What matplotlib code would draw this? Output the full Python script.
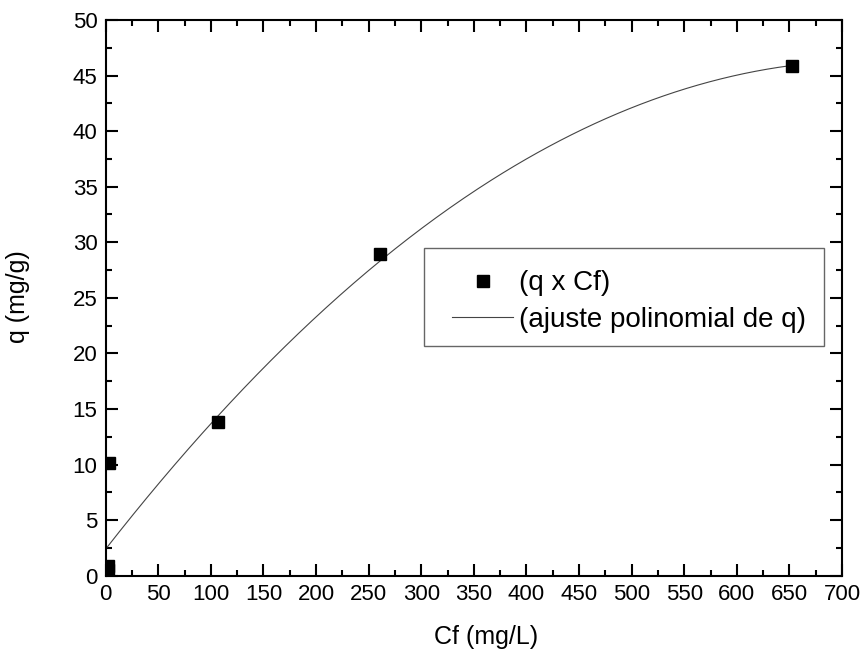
import numpy as np
import matplotlib
matplotlib.use("Agg")
import matplotlib.pyplot as plt
from matplotlib.ticker import MultipleLocator
from matplotlib.patches import Rectangle

plt.rcParams['font.family'] = ['Liberation Sans', 'DejaVu Sans']

# Experimental points (q x Cf)
cf = [3, 2, 2, 106.5, 261, 652.5]
q = [10.15, 0.85, 0.55, 13.85, 28.9, 45.9]

# Polynomial fit coefficients (q = a + b*Cf + c*Cf^2)
fit_coef = [-8.34e-5, 0.1211, 2.4]
fit_range = [0, 652.5]

xf = np.linspace(fit_range[0], fit_range[1], 300)
yf = np.polyval(fit_coef, xf)

fig = plt.figure(figsize=(8.65, 6.59), dpi=100)
ax = fig.add_axes([0.1222, 0.1264, 0.9734 - 0.1222, 0.9697 - 0.1264])

ax.plot(xf, yf, color='#444444', lw=0.8, label='(ajuste polinomial de q)', zorder=2)
ax.plot(cf, q, 's', color='black', ms=9, label='(q x Cf)', zorder=3)

ax.set_xlim(0, 700)
ax.set_ylim(0, 50)
ax.xaxis.set_major_locator(MultipleLocator(50))
ax.xaxis.set_minor_locator(MultipleLocator(25))
ax.yaxis.set_major_locator(MultipleLocator(5))
ax.yaxis.set_minor_locator(MultipleLocator(2.5))
ax.tick_params(which='both', direction='in', top=True, right=True, width=1.5, labelsize=16)
ax.tick_params(which='major', length=8.5)
ax.tick_params(which='minor', length=4.5)
ax.tick_params(axis='x', which='major', pad=6)
ax.tick_params(axis='y', which='major', pad=6)
for s in ax.spines.values():
    s.set_linewidth(1.5)

ax.set_xlabel('Cf (mg/L)', fontsize=18)
ax.set_ylabel('q (mg/g)', fontsize=18)
ax.xaxis.set_label_coords(0.516, -0.089)
ax.yaxis.set_label_coords(-0.1028, 0.5015)

# legend frame
ax.add_patch(Rectangle((0.4323, 0.4134), 0.9756 - 0.4323, 0.5897 - 0.4134,
                       transform=ax.transAxes, fill=False, edgecolor='#666666',
                       lw=1.0, zorder=4))

h, l = ax.get_legend_handles_labels()
leg = ax.legend([h[1], h[0]], [l[1], l[0]], loc='center left',
                bbox_to_anchor=(0.4703, 0.4934), fontsize=20, frameon=False,
                handlelength=2.2, borderpad=0, labelspacing=0.38, handletextpad=0.2,
                borderaxespad=0)

fig.savefig('out.png', dpi=100)
